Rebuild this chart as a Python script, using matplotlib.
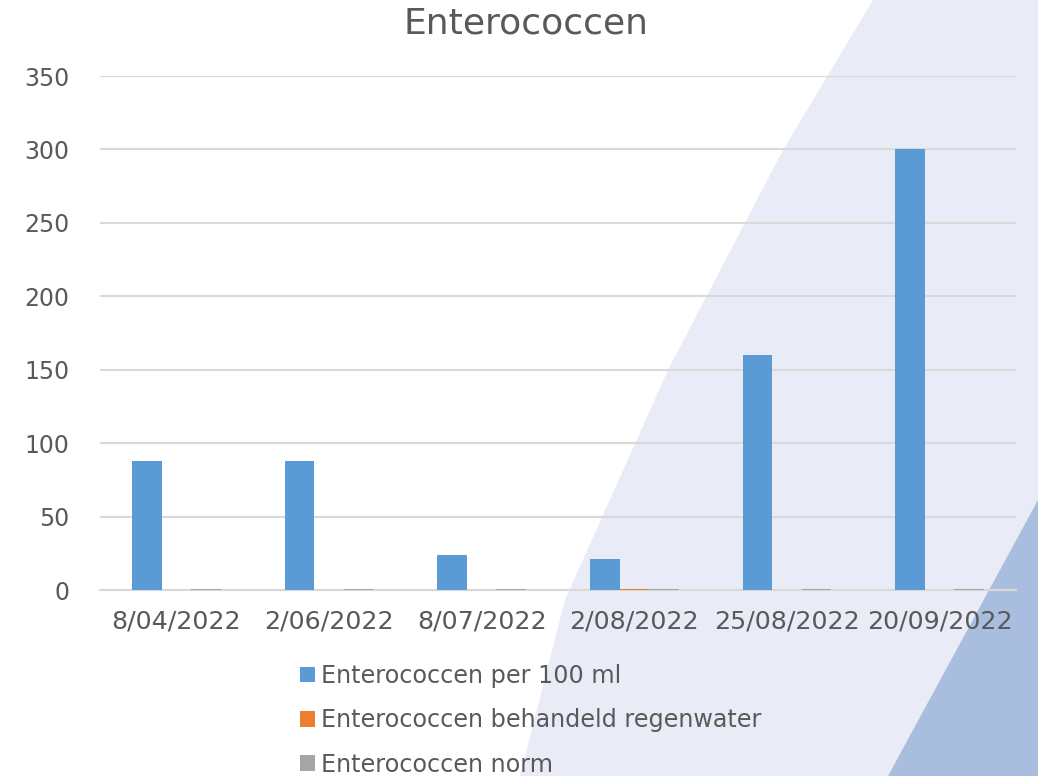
import numpy as np
import matplotlib
matplotlib.use("Agg")
import matplotlib.pyplot as plt
from matplotlib.patches import Polygon, Patch

plt.rcParams["font.family"] = ["DejaVu Sans"]

# data
dates = ["8/04/2022", "2/06/2022", "8/07/2022", "2/08/2022", "25/08/2022", "20/09/2022"]
per_100ml = [88, 88, 24, 21, 160, 300]
behandeld = [0, 0, 0, 1, 0, 0]
norm = [1, 1, 1, 1, 1, 1]

series_labels = ["Enterococcen per 100 ml",
                 "Enterococcen behandeld regenwater",
                 "Enterococcen norm"]
colours = ["#5B9BD5", "#ED7D31", "#A5A5A5"]
text_col = "#595959"
grid_col = "#D9D9D9"

W, H = 1038, 776
fig = plt.figure(figsize=(W / 100, H / 100), dpi=100)
fig.patch.set_facecolor("white")

# decorative background bands (slide template), drawn in pixel coords
bg = fig.add_axes([0, 0, 1, 1], zorder=-1)
bg.set_xlim(0, W)
bg.set_ylim(H, 0)
bg.axis("off")
light = [(873, 0), (W, 0), (W, H), (520, H), (565, 600), (668, 370), (783, 150)]
dark = [(W, 500), (W, H), (888, H)]
bg.add_patch(Polygon(light, closed=True, facecolor="#E9ECF6", edgecolor="none"))
bg.add_patch(Polygon(dark, closed=True, facecolor="#A9BEDE", edgecolor="none"))

left, right, top, bottom = 100, 1016, 76, 590
ax = fig.add_axes([left / W, 1 - bottom / H, (right - left) / W, (bottom - top) / H])
ax.set_facecolor("none")

x = np.arange(len(dates))
w = 0.193
for k, (vals, col, lab) in enumerate(zip([per_100ml, behandeld, norm], colours, series_labels)):
    ax.bar(x + (k - 1) * w, vals, width=w, color=col, label=lab, zorder=3)

ax.set_xlim(-0.5, len(dates) - 0.5)
ax.set_ylim(0, 350)
ax.set_yticks(np.arange(0, 351, 50))
ax.set_xticks(x)
ax.set_xticklabels(dates)
ax.tick_params(axis="both", length=0, colors=text_col)
ax.tick_params(axis="x", pad=14, labelsize=18.3)
ax.tick_params(axis="y", pad=22, labelsize=17)
ax.grid(axis="y", color=grid_col, lw=1.5, zorder=1)
for side in ["left", "right", "top"]:
    ax.spines[side].set_visible(False)
ax.spines["bottom"].set_color(grid_col)
ax.spines["bottom"].set_linewidth(1.5)
ax.spines["bottom"].set_zorder(2)

fig.text(526 / W, 1 - 23 / H, "Enterococcen", ha="center", va="center",
         fontsize=26, color=text_col)

handles = [Patch(facecolor=c, edgecolor="none") for c in colours]
fig.legend(handles, series_labels, loc="upper left",
           bbox_to_anchor=(300 / W, 1 - 664 / H), frameon=False,
           fontsize=17.2, labelcolor=text_col, handlelength=0.62, handleheight=0.62,
           handletextpad=0.25, labelspacing=0.85, borderpad=0, borderaxespad=0)

fig.savefig("out.png", dpi=100)
